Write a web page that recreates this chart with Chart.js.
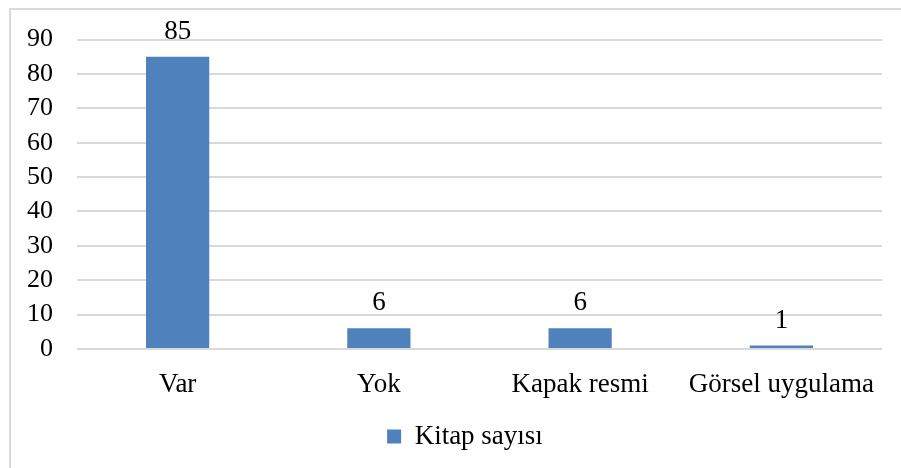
<!DOCTYPE html>
<html>
<head>
<meta charset="utf-8">
<script src="https://cdn.jsdelivr.net/npm/chart.js@4"></script>
<style>
  html, body { margin: 0; padding: 0; background: #fff; }
  #wrap { position: relative; width: 901px; height: 468px; }
  #frame { position: absolute; left: 9px; top: 8px; right: 0; bottom: 0;
           border-top: 2px solid #d9d9d9; border-left: 2px solid #d9d9d9; }
  canvas { position: absolute; left: 0; top: 0; }
</style>
</head>
<body>
<div id="wrap">
  <div id="frame"></div>
  <canvas id="barChart" width="901" height="468"></canvas>
</div>
<script>
// --- data ---
const categories = ['Var', 'Yok', 'Kapak resmi', 'Görsel uygulama'];
const kitapSayisi = [85, 6, 6, 1];
const seriesLabel = 'Kitap sayısı';
const yTicks = [0, 10, 20, 30, 40, 50, 60, 70, 80, 90];

const FONT = '"Liberation Serif", "Times New Roman", serif';
const BLUE = '#4F81BD';

// value labels above bars
const valueLabels = {
  id: 'valueLabels',
  afterDatasetsDraw(chart) {
    const ctx = chart.ctx;
    const meta = chart.getDatasetMeta(0);
    ctx.save();
    ctx.font = '27px ' + FONT;
    ctx.fillStyle = '#000';
    ctx.textAlign = 'center';
    ctx.textBaseline = 'alphabetic';
    meta.data.forEach((bar, i) => {
      ctx.fillText(String(kitapSayisi[i]), bar.x, bar.y - 18);
    });
    ctx.restore();
  }
};

// legend sits a bit right of centre in the original
const legendShift = {
  id: 'legendShift',
  afterLayout(chart) {
    if (chart.legend) chart.legend.left += 48;
  }
};

const ctx = document.getElementById('barChart').getContext('2d');
new Chart(ctx, {
  type: 'bar',
  data: {
    labels: categories,
    datasets: [{
      label: seriesLabel,
      data: kitapSayisi,
      backgroundColor: BLUE,
      barPercentage: 0.314,
      categoryPercentage: 1,
    }]
  },
  options: {
    responsive: false,
    animation: false,
    layout: { padding: { left: 0, top: 37, right: 19, bottom: 8 } },
    plugins: {
      tooltip: { enabled: false },
      legend: {
        position: 'bottom',
        labels: {
          boxWidth: 14,
          boxHeight: 14,
          color: '#000',
          font: { family: FONT, size: 27 },
          padding: 8,
        }
      }
    },
    scales: {
      x: {
        grid: { display: false },
        border: { display: false },
        ticks: { color: '#000', font: { family: FONT, size: 27 }, padding: 12, maxRotation: 0 },
        afterFit(scale) { scale.height = 66; }
      },
      y: {
        min: 0,
        max: 90,
        afterBuildTicks(scale) { scale.ticks = yTicks.map(v => ({ value: v })); },
        grid: { color: '#d9d9d9', lineWidth: 2, drawTicks: false },
        border: { display: false },
        ticks: { color: '#000', font: { family: FONT, size: 26 }, padding: 24, autoSkip: false },
        afterFit(scale) { scale.width = 77; }
      }
    }
  },
  plugins: [valueLabels, legendShift]
});
</script>
</body>
</html>
